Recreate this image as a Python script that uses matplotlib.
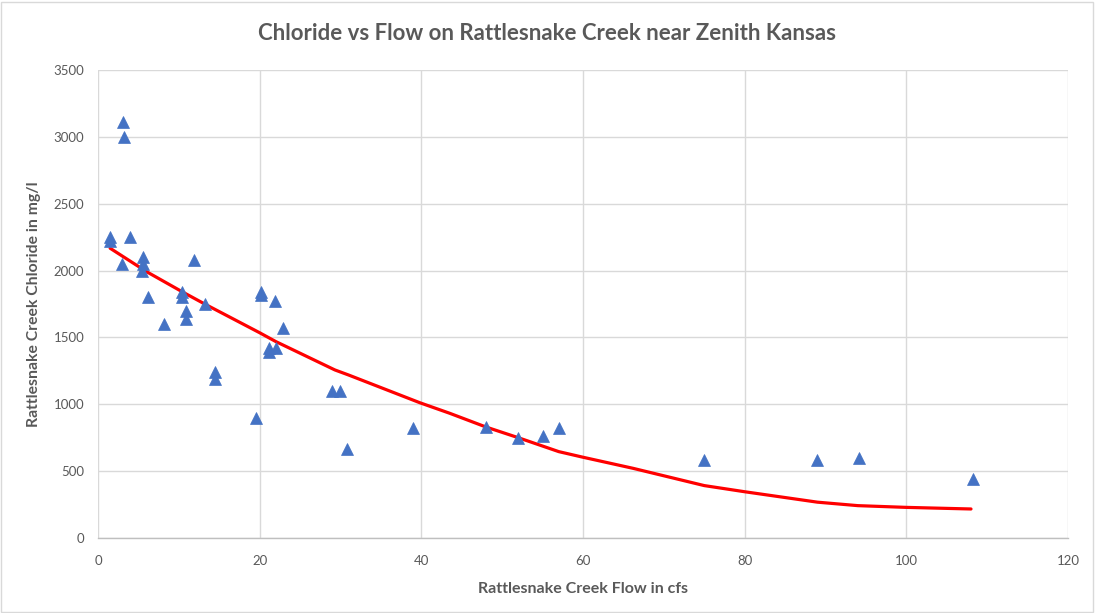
import matplotlib
matplotlib.use("Agg")
import matplotlib.pyplot as plt
from matplotlib.patches import Rectangle

# Data
flow = [1.5, 1.5, 3.1, 3.25, 3.0, 4.0, 5.6, 5.6, 5.4, 6.2, 8.2, 10.35, 10.35,
        10.9, 10.9, 11.9, 13.2, 14.5, 14.5, 19.6, 20.2, 20.2, 21.2, 21.2, 22.0,
        21.9, 22.9, 28.9, 29.9, 30.8, 39.0, 48.0, 51.9, 55.0, 57.0, 75.0, 89.0,
        94.1, 108.2]
chloride = [2250, 2220, 3110, 3000, 2050, 2250, 2100, 2050, 2000, 1800, 1600,
            1840, 1800, 1700, 1640, 2080, 1750, 1240, 1190, 900, 1840, 1820,
            1420, 1390, 1420, 1770, 1570, 1100, 1100, 665, 820, 830, 750, 760,
            820, 580, 585, 600, 440]

trend_x = [1.5, 6, 10.4, 13.2, 20, 22, 29.3, 31, 39.8, 43.5, 48, 52, 57, 60,
           66.2, 75, 80, 89, 94, 100, 108]
trend_y = [2167, 1992, 1842, 1750, 1535, 1469, 1257, 1219, 1012, 933, 830, 750,
           646, 604, 521, 392, 346, 268, 242, 229, 217]

x_ticks = [0, 20, 40, 60, 80, 100, 120]
y_ticks = [0, 500, 1000, 1500, 2000, 2500, 3000, 3500]

title = "Chloride vs Flow on Rattlesnake Creek near Zenith Kansas"
x_label = "Rattlesnake Creek Flow in cfs"
y_label = "Rattlesnake Creek Chloride in mg/l"

plt.rcParams['font.family'] = ['Lato', 'DejaVu Sans']
grey = '#595959'

fig = plt.figure(figsize=(10.95, 6.13), dpi=100)
ax = fig.add_axes([98 / 1095, 1 - 538 / 613, 970 / 1095, 468 / 613])

ax.plot(trend_x, trend_y, color='#FF0000', lw=2.3, solid_joinstyle='round',
        solid_capstyle='round', zorder=3)
ax.plot(flow, chloride, linestyle='none', marker='^', ms=8.5,
        color='#4472C4', markeredgecolor='#4472C4', markeredgewidth=0.5, zorder=4)

ax.set_xlim(0, 120)
ax.set_ylim(0, 3500)
ax.set_xticks(x_ticks)
ax.set_yticks(y_ticks)
ax.grid(True, color='#d9d9d9', lw=1.0, zorder=0)
ax.set_axisbelow(True)
for s in ['top', 'right', 'left']:
    ax.spines[s].set_visible(False)
ax.spines['bottom'].set_color('#bfbfbf')
ax.spines['bottom'].set_linewidth(1.0)
ax.tick_params(length=0, labelsize=9.5, labelcolor=grey)
ax.tick_params(axis='x', pad=12)
ax.tick_params(axis='y', pad=10)

ax.set_xlabel(x_label, fontsize=11.5, fontweight='bold', color=grey, labelpad=11)
ax.set_ylabel(y_label, fontsize=11.3, fontweight='bold', color=grey, labelpad=9)
fig.text(0.5, 1 - 33 / 613, title, ha='center', va='center', fontsize=16,
         fontweight='bold', color=grey)

fig.patches.append(Rectangle((0.001, 0.002), 0.997, 0.994, transform=fig.transFigure,
                             fill=False, edgecolor='#d9d9d9', lw=1.0))

fig.savefig('out.png', dpi=100)
